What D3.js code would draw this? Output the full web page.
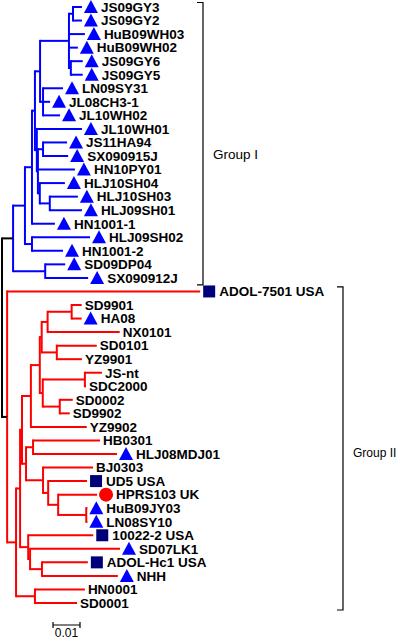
<!DOCTYPE html>
<html><head><meta charset="utf-8">
<script src="https://cdn.jsdelivr.net/npm/d3@7"></script>
<style>body{margin:0;background:#fff}svg{display:block}</style>
</head><body><svg id="c" width="400" height="642"></svg>
<script>
// ---- DATA ----
const nodeIds = [
 "root","NB","NB1","NB2","NB3","Ntop","Nsix","Ngy32","JS09GY3","JS09GY2","HuB09WH03","HuB09WH02","Ngy65","JS09GY6","JS09GY5",
 "NJL","LN09SY31","JL08CH3-1","JL10WH02","Nmid","JL10WH01","Nrest","NJS","JS11HA94","SX090915J","HN10PY01","NHLJ","HLJ10SH04","NHLJ2","HLJ10SH03","HLJ09SH01",
 "HN1001-1","NHLJH","HLJ09SH02","HN1001-2","NSDb","SD09DP04","SX090912J",
 "NR","ADOL-7501 USA","NR1","NR2","NRup","NA","NA1","NA1a","NSDg","NSD99","SD9901","HA08","NX0101","NSD0101","SD0101","YZ9901",
 "NA1b","NJSnt","JS-nt","SDC2000","NSD0002","SD0002","SD9902","YZ9902",
 "NHBBJ","NHB","HB0301","HLJ08MDJ01","NBJ","BJ0303","NUD","UD5 USA","NHP","HPRS103 UK","NHL","HuB09JY03","LN08SY10",
 "NRlow","10022-2 USA","NRlow2","SD07LK1","NAN","ADOL-Hc1 USA","NHH","NHN","HN0001","SD0001"
];
const parentIds = [
 null,"root","NB","NB1","NB2","NB3","Ntop","Nsix","Ngy32","Ngy32","Nsix","Nsix","Nsix","Ngy65","Ngy65",
 "Ntop","NJL","NJL","NJL","NB3","Nmid","Nmid","Nrest","NJS","NJS","Nrest","Nrest","NHLJ","NHLJ","NHLJ2","NHLJ2",
 "NB2","NB1","NHLJH","NHLJH","NB","NSDb","NSDb",
 "root","NR","NR","NR1","NR2","NRup","NA","NA1","NA1a","NSDg","NSD99","NSD99","NSDg","NA1a","NSD0101","NSD0101",
 "NA1","NA1b","NJSnt","NJSnt","NA1b","NSD0002","NSD0002","NA",
 "NRup","NHBBJ","NHB","NHB","NHBBJ","NBJ","NBJ","NUD","NUD","NHP","NHP","NHL","NHL",
 "NR2","NRlow","NRlow","NRlow2","NRlow2","NAN","NAN","NR1","NHN","NHN"
];
const branchLengths = [
 0,0.0041,0.0044,0.0026,0.0011,0.0019,0.0107,0.0015,0.0033,0.0033,0.0059,0.0033,0.0007,0.0044,0.0044,
 0.0011,0.0074,0.0026,0.0063,0.0007,0.0167,0.0004,0.0019,0.0089,0.0093,0.0137,0.0007,0.0093,0.0037,0.0104,0.0119,
 0.0085,0.0026,0.0215,0.0115,0.0119,0.0074,0.0159,
 0.0019,0.0715,0.0033,0.0015,0.0007,0.0033,0.0033,0.0007,0.0022,0.0089,0.0037,0.0037,0.0267,0.0056,0.0148,0.0093,
 0.0011,0.0156,0.0063,0.0004,0.0063,0.0048,0.0037,0.0207,
 0.0015,0.0026,0.0248,0.0311,0.0063,0.0185,0.0019,0.0144,0.0037,0.0144,0.0104,0.0004,0.0004,
 0.0030,0.0241,0.0007,0.0333,0.0044,0.0170,0.0281,0.0070,0.0185,0.0156
];
// leaf markers: tri = blue triangle, sq = navy square, dot = red circle
const markerLeaves = ["JS09GY3","JS09GY2","HuB09WH03","HuB09WH02","JS09GY6","JS09GY5","LN09SY31","JL08CH3-1","JL10WH02","JL10WH01",
 "JS11HA94","SX090915J","HN10PY01","HLJ10SH04","HLJ10SH03","HLJ09SH01","HN1001-1","HLJ09SH02","HN1001-2","SD09DP04","SX090912J",
 "ADOL-7501 USA","HA08","HLJ08MDJ01","UD5 USA","HPRS103 UK","HuB09JY03","LN08SY10","10022-2 USA","SD07LK1","ADOL-Hc1 USA","NHH"];
const markerTypes = ["tri","tri","tri","tri","tri","tri","tri","tri","tri","tri",
 "tri","tri","tri","tri","tri","tri","tri","tri","tri","tri","tri",
 "sq","tri","tri","sq","dot","tri","tri","sq","tri","sq","tri"];
const cladeRoots = ["NB","NR"];
const cladeColors = ["#0000ff","#ff0000"];
const groupNames = ["Group I","Group II"];
const groupFirst = ["JS09GY3","ADOL-7501 USA"];
const groupLast = ["SX090912J","SD0001"];
const scaleBarValue = 0.01;
const scaleBarLabel = "0.01";

// ---- BUILD ----
const table = nodeIds.map((id,i)=>({id, parent: parentIds[i], len: branchLengths[i]}));
const root = d3.stratify().id(d=>d.id).parentId(d=>d.parent)(table);
root.eachBefore(n => { n.dist = n.parent ? n.parent.dist + n.data.len : 0; });
root.eachBefore(n => {
  const ci = cladeRoots.indexOf(n.id);
  n.color = ci >= 0 ? cladeColors[ci] : (n.parent ? n.parent.color : "#000");
});
const leaves = root.leaves();
const y = d3.scaleLinear().domain([0, leaves.length-1]).range([7, 603]);
leaves.forEach((l,i)=>{ l.yy = y(i); });
root.eachAfter(n => { if (n.children) n.yy = (n.children[0].yy + n.children[n.children.length-1].yy)/2; });
const x = d3.scaleLinear().domain([0, 0.1]).range([2, 272]);

const FONT = "Liberation Sans, Arial, Helvetica, sans-serif";
const svg = d3.select("#c");
const gT = svg.append("g");
const SW = 2;
root.descendants().filter(n=>n.children).forEach(n=>{
  gT.append("line").attr("x1",x(n.dist)).attr("x2",x(n.dist))
    .attr("y1",n.children[0].yy - SW/2).attr("y2",n.children[n.children.length-1].yy + SW/2)
    .attr("stroke",n.color).attr("stroke-width",SW);
});
root.descendants().filter(n=>n.parent).forEach(n=>{
  gT.append("line").attr("x1",x(n.parent.dist)).attr("x2",x(n.dist))
    .attr("y1",n.yy).attr("y2",n.yy)
    .attr("stroke",n.parent.color).attr("stroke-width",SW);
});
const gL = svg.append("g");
leaves.forEach(l=>{
  const tx = x(l.dist), ty = l.yy;
  const mi = markerLeaves.indexOf(l.id);
  const mt = mi>=0 ? markerTypes[mi] : "";
  if (mt==="tri") {
    const cx = tx+9;
    gL.append("path").attr("d",`M${cx-7},${ty+6}L${cx+7},${ty+6}L${cx},${ty-7}Z`).attr("fill","#0000ff");
  } else if (mt==="sq") {
    gL.append("rect").attr("x",tx+3).attr("y",ty-6).attr("width",12).attr("height",12).attr("fill","#00007a");
  } else if (mt==="dot") {
    gL.append("circle").attr("cx",tx+9).attr("cy",ty).attr("r",7).attr("fill","#ff0000");
  }
  gL.append("text").attr("x", tx + (mt ? 19 : 3)).attr("y", ty).attr("dy","0.36em")
    .attr("font-family",FONT).attr("font-weight","bold").attr("font-size",13.5)
    .attr("fill","#000").text(l.id);
});
const bx = [203, 343], lx = [213, 353], loff = [10, 4], lfs = [13.5, 12];
groupNames.forEach((g,i)=>{
  const a = leaves.find(l=>l.id===groupFirst[i]).yy - 4.5;
  const b = leaves.find(l=>l.id===groupLast[i]).yy + 7;
  svg.append("path").attr("d",`M${bx[i]-6},${a}H${bx[i]}V${b}H${bx[i]-6}`)
    .attr("fill","none").attr("stroke","#000").attr("stroke-width",1.2);
  svg.append("text").attr("x",lx[i]).attr("y",(a+b)/2+loff[i]).attr("dy","0.36em")
    .attr("font-family",FONT).attr("font-size",lfs[i]).text(g);
});
const sb0 = 53, sb1 = sb0 + (x(scaleBarValue)-x(0)), sby = 625;
svg.append("path").attr("d",`M${sb0},${sby-3}V${sby+3}M${sb0},${sby}H${sb1}M${sb1},${sby-3}V${sby+3}`)
  .attr("stroke","#000").attr("stroke-width",1.2).attr("fill","none");
svg.append("text").attr("x",(sb0+sb1)/2).attr("y",637).attr("text-anchor","middle")
  .attr("font-family",FONT).attr("font-size",12).text(scaleBarLabel);
</script></body></html>
